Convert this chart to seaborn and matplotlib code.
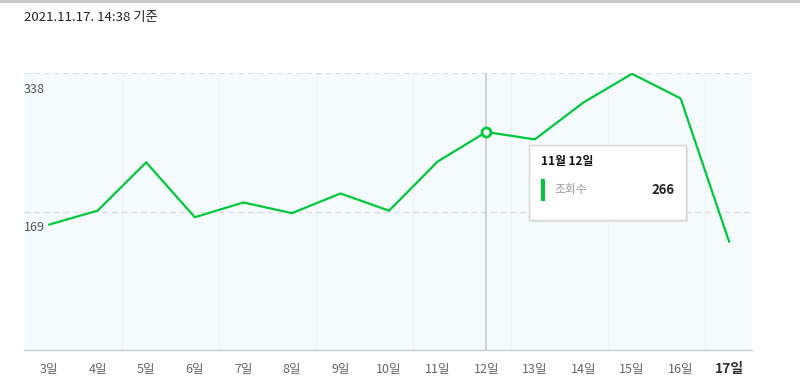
import matplotlib
matplotlib.use("Agg")
import matplotlib.pyplot as plt
from matplotlib.patches import Rectangle
import seaborn as sns
import pandas as pd

days = ["3일", "4일", "5일", "6일", "7일", "8일", "9일", "10일",
        "11일", "12일", "13일", "14일", "15일", "16일", "17일"]
views = [153, 170, 229, 162, 180, 167, 191, 170, 230, 266, 257, 302, 337, 307, 132]
y_ticks = [169, 338]
title_text = "2021.11.17. 14:38 기준"
tip_date = "11월 12일"
tip_label = "조회수"
tip_index = 9

sns.set_theme(style="white")
plt.rcParams["font.family"] = ["Noto Sans CJK KR", "DejaVu Sans"]

GREEN = "#00c73c"
df = pd.DataFrame({"day": range(len(days)), "views": views})

fig = plt.figure(figsize=(8, 3.82), dpi=100)
ax = fig.add_axes([24 / 800, 1 - 350 / 382, 728 / 800, 277 / 382])
ax.set_facecolor("#f5fbfd")

# faint band separators
for i in range(1, len(days) - 1, 2):
    ax.axvline(i + 0.5, color="#ecf4f7", lw=0.8, zorder=0)

# dashed horizontal gridlines
for v in y_ticks:
    ax.axhline(v, color="#dcdfe2", lw=1.0, ls=(0, (4, 3)), zorder=1)

# crosshair
ax.axvline(tip_index, color="#c8cacc", lw=1.2, zorder=2)

sns.lineplot(data=df, x="day", y="views", ax=ax, color=GREEN, lw=1.6, zorder=3)
ax.scatter([tip_index], [views[tip_index]], s=42, facecolor="white",
           edgecolor=GREEN, linewidth=2, zorder=4)

ax.set_xlim(-0.515, len(days) - 1 + 0.47)
ax.set_ylim(0, 338)
ax.set_xlabel("")
ax.set_ylabel("")
for s in ["top", "left", "right"]:
    ax.spines[s].set_visible(False)
ax.spines["bottom"].set_color("#c9cccf")
ax.spines["bottom"].set_linewidth(1.0)

ax.set_xticks(range(len(days)))
ax.set_xticklabels(days, fontsize=9, color="#666666")
ax.tick_params(axis="x", length=0, pad=9)
lbls = ax.get_xticklabels()
lbls[-1].set_fontweight("bold")
lbls[-1].set_color("#333333")
lbls[-1].set_fontsize(10)
ax.set_yticks([])

for v in y_ticks:
    ax.annotate(str(v), xy=(0, v), xycoords=("axes fraction", "data"),
                xytext=(0, -7), textcoords="offset points",
                ha="left", va="top", fontsize=9, color="#555555")

fig.text(24 / 800, 1 - 18 / 382, title_text, fontsize=9.5, color="#222222",
         ha="left", va="center")
# top gray strip
fig.patches.append(Rectangle((0, 1 - 3 / 382), 1, 3 / 382, transform=fig.transFigure,
                             facecolor="#c8c8c8", edgecolor="none"))

# tooltip
bx, by, bw, bh = 529 / 800, 1 - 220 / 382, 157 / 800, 75 / 382
fig.patches.append(Rectangle((bx + 2 / 800, by - 2 / 382), bw, bh, transform=fig.transFigure,
                             facecolor="#e4e4e4", edgecolor="none", zorder=5))
fig.patches.append(Rectangle((bx, by), bw, bh, transform=fig.transFigure,
                             facecolor="white", edgecolor="#d6d6d6", lw=1, zorder=6))
fig.patches.append(Rectangle((541 / 800, 1 - 201 / 382), 4 / 800, 22 / 382,
                             transform=fig.transFigure, facecolor=GREEN,
                             edgecolor="none", zorder=7))
fig.text(541 / 800, 1 - 162 / 382, tip_date, fontsize=8.5, fontweight="bold",
         color="#111111", ha="left", va="center", zorder=8)
fig.text(554 / 800, 1 - 190 / 382, tip_label, fontsize=8.5, color="#999999",
         ha="left", va="center", zorder=8)
fig.text(674 / 800, 1 - 190 / 382, str(views[tip_index]), fontsize=9.5,
         fontweight="bold", color="#222222", ha="right", va="center", zorder=8)

fig.savefig("out.png", dpi=100)
